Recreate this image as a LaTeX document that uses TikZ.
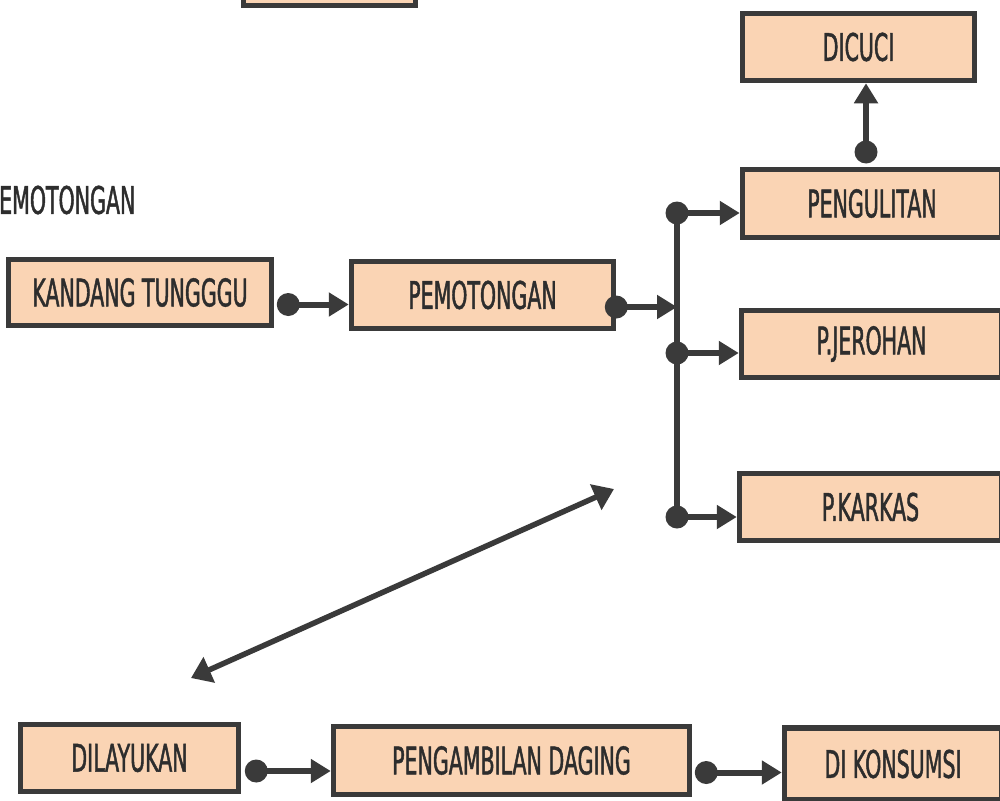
\documentclass[tikz,border=0pt]{standalone}
\usepackage{fontspec}
\newfontfamily\boxfont[FakeStretch=0.54,FakeBold=1.2]{DejaVu Sans}
\usetikzlibrary{arrows.meta,calc}
\definecolor{peach}{RGB}{250,212,180}
\definecolor{ink}{RGB}{58,58,58}
\definecolor{txt}{RGB}{45,45,45}
\begin{document}
\begin{tikzpicture}[x=1pt,y=-1pt,
  box/.style={draw=ink,line width=5.5pt,fill=peach,text=txt,inner sep=0pt,
    font=\boxfont\fontsize{38}{40}\selectfont},
  flow/.style={draw=ink,line width=6pt,-{Triangle[length=20pt,width=23pt]}},
  dot/.style={fill=ink},
  dbl/.style={draw=ink,line width=5.5pt,{Triangle[length=20pt,width=27pt]}-{Triangle[length=20pt,width=27pt]}}]
\useasboundingbox (0,0) rectangle (1000,800);
\clip (0,0) rectangle (1000,800);
\fill[white] (0,0) rectangle (1000,800);

% process boxes
\node[box,minimum width=172pt,minimum height=63pt] (top) at (329.5,-26) {};
\node[box,minimum width=263pt,minimum height=66pt] (kandang) at (140,292.5) {KANDANG TUNGGGU};
\node[box,minimum width=262pt,minimum height=67pt] (potong) at (482.5,295) {PEMOTONGAN};
\node[box,minimum width=232pt,minimum height=67pt] (cuci) at (858.5,47) {DICUCI};
\node[box,minimum width=259pt,minimum height=68pt] (kulit) at (872,203.5) {PENGULITAN};
\node[box,minimum width=260pt,minimum height=67pt] (jeroan) at (871.5,344) {P.JEROHAN};
\node[box,minimum width=262pt,minimum height=67pt] (karkas) at (870.5,507) {P.KARKAS};
\node[box,minimum width=218pt,minimum height=67pt] (layu) at (129.5,758) {DILAYUKAN};
\node[box,minimum width=356pt,minimum height=68pt] (daging) at (511.5,760.5) {PENGAMBILAN DAGING};
\node[box,minimum width=217pt,minimum height=72pt] (konsumsi) at (893,764) {DI KONSUMSI};

% section title
\node[anchor=west,inner sep=0pt,text=txt,font=\boxfont\fontsize{38}{40}\selectfont] (judul) at (-1,200) {EMOTONGAN};

% start points of the connectors
\coordinate (s1) at ($(kandang.east)+(14,12)$);
\coordinate (s2) at ($(potong.east)+(0,12)$);
\coordinate (bus) at (677,307);
\coordinate (b1) at (677,213);
\coordinate (b2) at (677,353);
\coordinate (b3) at (677,517);
\coordinate (s4) at (866,152);
\coordinate (s5) at ($(layu.east)+(15,13)$);
\coordinate (s6) at ($(daging.east)+(14,12)$);

% connectors
\draw[flow] (s1) -- (s1 -| potong.west);
\draw[flow] (s2) -- (bus);
\draw[ink,line width=6pt] (b1) -- (b3);
\draw[flow] (b1) -- (b1 -| kulit.west);
\draw[flow] (b2) -- (b2 -| jeroan.west);
\draw[flow] (b3) -- (b3 -| karkas.west);
\draw[flow] (s4) -- (s4 |- cuci.south);
\draw[flow] (s5) -- (s5 -| daging.west);
\draw[flow] (s6) -- (s6 -| konsumsi.west);
\foreach \p in {s1,s2,b1,b2,b3,s4,s5,s6} \fill[dot] (\p) circle (11.5);

% free double arrow
\coordinate (ua) at (614,489);
\coordinate (la) at (191,678);
\draw[dbl] (la) -- (ua);
\end{tikzpicture}
\end{document}
